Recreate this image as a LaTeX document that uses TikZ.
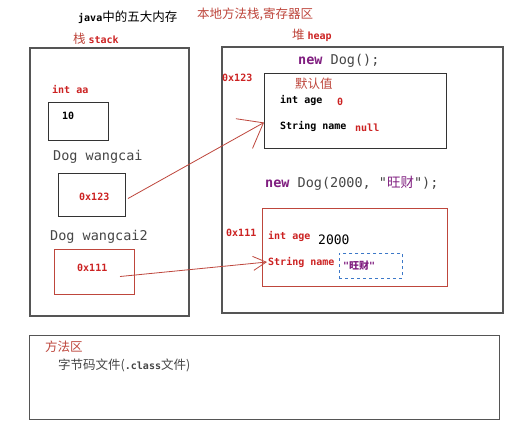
\documentclass[tikz,border=0pt]{standalone}
\usepackage{fontspec}
\setmainfont{DejaVu Sans}
\newfontfamily\cjk{Noto Sans CJK SC}
\newfontfamily\mono{DejaVu Sans Mono}
\usetikzlibrary{arrows.meta}
\definecolor{codered}{RGB}{204,34,34}
\definecolor{linered}{RGB}{190,70,60}
\definecolor{boxgrey}{RGB}{85,85,85}
\definecolor{txtgrey}{RGB}{70,70,70}
\definecolor{kwpurple}{RGB}{128,30,128}
\definecolor{dashblue}{RGB}{60,120,200}
\tikzset{
  lbl/.style={anchor=west, inner sep=0pt},
  code/.style={lbl, font=\mono\bfseries\fontsize{10}{12}\selectfont, text=codered},
  codeblk/.style={lbl, font=\mono\bfseries\fontsize{10}{12}\selectfont, text=black},
  big/.style={lbl, font=\mono\fontsize{13.5}{16}\selectfont, text=txtgrey},
  cjkred/.style={lbl, font=\cjk\fontsize{12.5}{14}\selectfont, text=linered},
  area/.style={draw=boxgrey, line width=1.3pt, anchor=north west, inner sep=0pt, outer sep=0pt},
  cell/.style={draw=black!80, line width=1pt, anchor=north west, inner sep=0pt, outer sep=0pt},
  redcell/.style={draw=linered, line width=1pt, anchor=north west, inner sep=0pt, outer sep=0pt},
  ref/.style={draw=linered, line width=0.8pt},
}
\begin{document}
\begin{tikzpicture}[x=1pt,y=-1pt]
\useasboundingbox[fill=white] (0,0) rectangle (514,424);
% headings
\node[lbl] (title) at (78,17) {{\mono\bfseries\fontsize{10}{12}\selectfont java}{\cjk\fontsize{12.5}{14}\selectfont 中的五大内存}};
\node[cjkred] (native) at (197,14) {本地方法栈,寄存器区};
\node[cjkred] (stackttl) at (73,39) {栈 {\mono\bfseries\fontsize{10}{12}\selectfont\color{codered}stack}};
\node[cjkred] (heapttl) at (292,35) {堆 {\mono\bfseries\fontsize{10}{12}\selectfont\color{codered}heap}};
% stack
\node[area, minimum width=159pt, minimum height=268pt] (stack) at (30,48) {};
\node[code] (intaa) at (52,90) {int aa};
\node[cell, minimum width=60pt, minimum height=38pt] (aabox) at (48,102) {};
\node[codeblk] (ten) at (62,116) {10};
\node[big] (wc) at (53,157) {Dog wangcai};
\node[cell, minimum width=67pt, minimum height=43pt] (wcbox) at (58,173) {};
\node[code] (wcval) at (79,197) {0x123};
\node[big] (wc2) at (50,237) {Dog wangcai2};
\node[redcell, minimum width=80pt, minimum height=45pt] (wc2box) at (54,249) {};
\node[code] (wc2val) at (77,268) {0x111};
% heap
\node[area, minimum width=281pt, minimum height=266pt] (heap) at (222,47) {};
\node[big] (new1) at (298,61) {{\bfseries\color{kwpurple}new} Dog();};
\node[code] (addr1) at (222,78) {0x123};
\node[cell, minimum width=182pt, minimum height=75pt] (obj1) at (264,73) {};
\node[cjkred] (default) at (295,84) {默认值};
\node[codeblk] (age1) at (280,100) {int age};
\node[code] (age1v) at (337,102) {0};
\node[codeblk] (name1) at (280,126) {String name};
\node[code] (name1v) at (355,128) {null};
\node[big] (new2) at (265,183) {{\bfseries\color{kwpurple}new} Dog(2000, "{\cjk\color{kwpurple}旺财}");};
\node[code] (addr2) at (226,233) {0x111};
\node[redcell, minimum width=185pt, minimum height=78pt] (obj2) at (262,208) {};
\node[code] (age2) at (268,236) {int age};
\node[lbl, font=\mono\fontsize{13}{15}\selectfont] (age2v) at (318,240) {2000};
\node[code] (name2) at (268,262) {String name};
\node[draw=dashblue, dashed, line width=0.7pt, anchor=north west, minimum width=63pt, minimum height=25pt, inner sep=0pt] (strbox) at (339,253) {};
\node[lbl, font=\mono\bfseries\fontsize{10}{12}\selectfont, text=kwpurple] (name2v) at (343,266) {"{\cjk 旺财}"};
% references
\draw[ref, -{Straight Barb[length=22pt,width=34pt,line width=0.8pt]}] ([xshift=3pt,yshift=-4pt]wcbox.east) -- ([yshift=-12pt]obj1.west);
\draw[ref, -{Straight Barb[length=13pt,width=14pt,line width=0.8pt]}] ([xshift=-14pt,yshift=-5pt]wc2box.east) -- ([xshift=-1pt]name2.west);
% method area
\node[area, line width=1pt, minimum width=470pt, minimum height=84pt] (method) at (29,335) {};
\node[cjkred] (methttl) at (45,347) {方法区};
\node[lbl, font=\cjk\fontsize{12.5}{14}\selectfont, text=txtgrey] (bytecode) at (58,365) {字节码文件({\mono\bfseries\fontsize{10}{12}\selectfont .class}文件)};
\end{tikzpicture}
\end{document}
